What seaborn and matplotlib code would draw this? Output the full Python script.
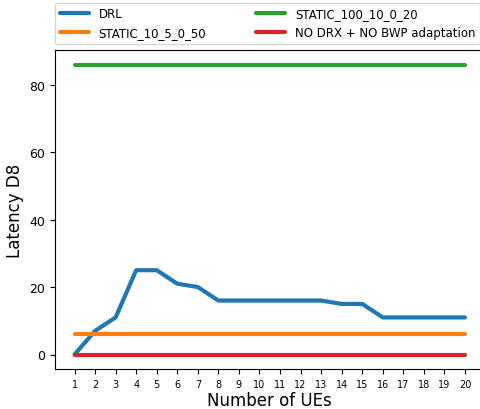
import pandas as pd
import numpy as np
import seaborn as sns
import matplotlib.pyplot as plt

# Data
num_ues = list(range(1, 21))
drl = [0, 7, 11, 25, 25, 21, 20, 16, 16, 16, 16, 16, 16, 15, 15, 11, 11, 11, 11, 11]
static_10_5_0_50 = [6] * 20
static_100_10_0_20 = [86] * 20
no_drx_no_bwp = [0] * 20

series_names = ["DRL", "STATIC_10_5_0_50", "STATIC_100_10_0_20", "NO DRX + NO BWP adaptation"]
series_values = [drl, static_10_5_0_50, static_100_10_0_20, no_drx_no_bwp]

df = pd.DataFrame({
    "ues": num_ues * len(series_names),
    "latency": sum(series_values, []),
    "scheme": sum([[n] * len(num_ues) for n in series_names], []),
})

sns.set_style("ticks", {"axes.edgecolor": "black", "text.color": "black",
                        "xtick.color": "black", "ytick.color": "black",
                        "axes.labelcolor": "black"})
plt.rcParams['font.family'] = ['DejaVu Sans']

fig = plt.figure(figsize=(4.81, 4.10), dpi=100)
ax = fig.add_axes([55/481, 40/410, 429.5/481, 319/410])

sns.lineplot(data=df, x="ues", y="latency", hue="scheme", hue_order=series_names,
             palette=sns.color_palette("tab10", 4), linewidth=3, ax=ax, legend=False)

ax.set_xticks(num_ues)
ax.tick_params(axis='x', labelsize=7)
ax.tick_params(axis='y', labelsize=9)
ax.set_xlabel("Number of UEs", fontsize=12, labelpad=1.5)
ax.set_ylabel("Latency D8", fontsize=12)

handles = ax.get_lines()[:4]
fig.legend(handles, series_names, loc='lower left', ncol=2, mode='expand',
           bbox_to_anchor=(55/481, 1 - 45/410, 425/481, 40/410),
           fontsize=8.5, handlelength=2.5, borderaxespad=0)

fig.savefig("out.png", dpi=100)
